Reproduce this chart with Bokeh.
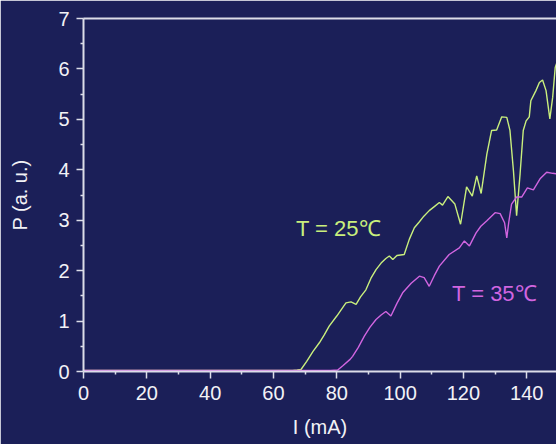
from bokeh.plotting import figure
from bokeh.models import LinearAxis, FixedTicker, Range1d, Label
from bokeh.embed import file_html
from bokeh.resources import INLINE

# ---- data ----
i_25 = [0, 10, 20, 30, 40, 50, 60, 66, 67.5, 68.7, 70.5, 72.5, 74.5, 76, 77.6, 80, 82.9,
        84.5, 86.1, 87.5, 89.2, 90.8, 92.4, 94, 95.5, 96.6, 97.7, 99, 101.3, 102.9, 104.5,
        106.1, 107.5, 109.2, 111, 112.4, 113.4, 115.1, 117.3, 119.1, 121.0, 122.8, 124.2,
        125.6, 127.4, 128.9, 130.5, 132.1, 133.7, 134.7, 135.8, 136.8, 137.9, 138.9, 139.8,
        140.8, 141.3, 142.9, 144.0, 145.0, 146.1, 147.3, 148.2, 149.0, 149.5]
p_25 = [0.02, 0.02, 0.02, 0.02, 0.02, 0.02, 0.02, 0.02, 0.03, 0.04, 0.2, 0.4, 0.57, 0.72, 0.90,
        1.1, 1.36, 1.38, 1.33, 1.48, 1.62, 1.85, 2.02, 2.15, 2.24, 2.29, 2.22, 2.3, 2.32,
        2.62, 2.85, 2.97, 3.08, 3.19, 3.28, 3.35, 3.30, 3.47, 3.32, 2.92, 3.66, 3.48, 3.88,
        3.53, 4.31, 4.78, 4.79, 5.05, 5.04, 4.78, 3.98, 3.09, 3.92, 4.78, 4.97,
        5.05, 5.37, 5.57, 5.73, 5.78, 5.57, 5.01, 5.44, 6.03, 6.12]

i_35 = [0, 10, 20, 30, 40, 50, 60, 70, 78, 80.3, 82, 84.2, 85.0, 86.8, 88.7, 90.5, 92.4,
        94, 95.5, 97.1, 99, 100.8, 103.5, 106.1, 107.6, 109.2, 110.8, 112.4, 115.5, 118.7,
        120.3, 121.9, 124.0, 125.5, 127.4, 130.0, 131.6, 133.0, 133.7, 134.3, 135.2, 136.8,
        138.4, 140.2, 142.1, 144.2, 146.3, 148.2, 149.5]
p_35 = [0.02, 0.02, 0.02, 0.02, 0.02, 0.02, 0.02, 0.02, 0.02, 0.03, 0.12, 0.24, 0.30, 0.48,
        0.70, 0.88, 1.03, 1.12, 1.19, 1.10, 1.35, 1.56, 1.75, 1.89, 1.86, 1.69, 1.9, 2.09,
        2.32, 2.45, 2.59, 2.49, 2.75, 2.88, 2.99, 3.15, 3.13, 2.95, 2.65, 2.95, 3.32, 3.46,
        3.46, 3.64, 3.60, 3.82, 3.95, 3.93, 3.92]

label_25 = "T = 25\u2103"
label_35 = "T = 35\u2103"
x_label = "I (mA)"
y_label = "P (a. u.)"

BG = "#1b1f58"
AX = "#dcdde8"
TXT = "#f2f2f6"
C25 = "#c9ef7d"
C35 = "#d165e0"
FONT = "Liberation Sans"

p = figure(width=556, height=444, output_backend="svg", toolbar_location=None,
           x_range=Range1d(0, 149.4), y_range=Range1d(0, 7),
           min_border_left=83, min_border_right=0, min_border_top=18, min_border_bottom=73,
           background_fill_color=BG, border_fill_color=BG, outline_line_color=None)
p.grid.visible = False

p.line(i_25, p_25, line_color=C25, line_width=1.4)
p.line(i_35, p_35, line_color=C35, line_width=1.4)

for ax in (p.xaxis[0], p.yaxis[0]):
    ax.axis_line_color = AX
    ax.axis_line_width = 2
    ax.major_tick_line_color = AX
    ax.major_tick_line_width = 1.5
    ax.minor_tick_line_color = AX
    ax.minor_tick_line_width = 1.5
    ax.major_tick_in = 0
    ax.major_tick_out = 7
    ax.minor_tick_in = 0
    ax.minor_tick_out = 3
    ax.major_label_text_font = FONT
    ax.major_label_text_font_size = "20px"
    ax.major_label_text_color = TXT
    ax.axis_label_text_font = FONT
    ax.axis_label_text_font_size = "20px"
    ax.axis_label_text_color = TXT
    ax.axis_label_text_font_style = "normal"

p.xaxis[0].ticker = FixedTicker(ticks=[0, 20, 40, 60, 80, 100, 120, 140],
                                minor_ticks=[10, 30, 50, 70, 90, 110, 130])
p.yaxis[0].ticker = FixedTicker(ticks=[0, 1, 2, 3, 4, 5, 6, 7],
                                minor_ticks=[0.5, 1.5, 2.5, 3.5, 4.5, 5.5, 6.5])
p.xaxis[0].axis_label = x_label
p.yaxis[0].axis_label = y_label
p.xaxis[0].major_label_standoff = 7
p.xaxis[0].axis_label_standoff = 13
p.yaxis[0].major_label_standoff = 7
p.yaxis[0].axis_label_standoff = 24

top = LinearAxis(ticker=FixedTicker(ticks=[]), axis_line_color=AX, axis_line_width=2,
                 major_tick_line_color=None, minor_tick_line_color=None)
p.add_layout(top, "above")

p.add_layout(Label(x=67.1, y=2.83, text=label_25, text_color=C25, text_font=FONT,
                   text_font_size="22px", text_baseline="middle"))
p.add_layout(Label(x=116.4, y=1.54, text=label_35, text_color=C35, text_font=FONT,
                   text_font_size="22px", text_baseline="middle"))

open("out.html", "w").write(file_html(p, INLINE))
